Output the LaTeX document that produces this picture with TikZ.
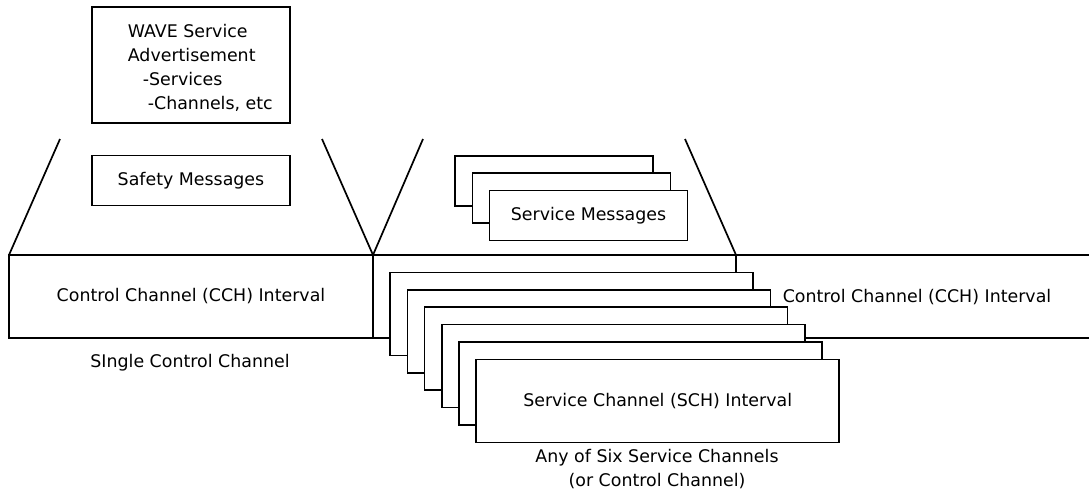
\documentclass[tikz,border=0pt]{standalone}
\usepackage{fontspec}
\setmainfont{DejaVu Sans}
\begin{document}
\begin{tikzpicture}[x=1pt,y=-1pt,
  line width=1.7pt,
  lbl/.style={font=\fontsize{17.4}{24}\selectfont, inner sep=0pt},
  msgbox/.style={draw, fill=white, minimum width=198pt, minimum height=50pt, inner sep=0pt, outer sep=0pt, font=\fontsize{17.4}{24}\selectfont},
  chanbox/.style={draw, fill=white, minimum width=363pt, minimum height=83pt, inner sep=0pt, outer sep=0pt, font=\fontsize{17.4}{24}\selectfont}]
\useasboundingbox (0,0) rectangle (1089,490);

% upper messages
\node[msgbox, minimum height=116pt] (wave) at (191,65) {};
\node[lbl, anchor=north west, align=left] (wavetxt) at (127,23)
  {WAVE Service\\Advertisement\\\hspace*{15pt}-Services\\\hspace*{20pt}-Channels, etc};
\node[msgbox] (safety) at (191,180.5) {Safety Messages};

\node[msgbox] (sm1) at (554,181) {};
\node[msgbox] (sm2) at (571.5,198) {};
\node[msgbox] (sm3) at (588.5,215.5) {Service Messages};

% timeline: control channel, then stacked service channels
\node[chanbox, minimum width=364pt] (cchL) at (191,296.5) {Control Channel (CCH) Interval};
\coordinate (edgeT) at (1089,255);
\coordinate (edgeB) at (1089,338);
\foreach \i in {1,...,7}{
  \node[chanbox] (sch\i) at ({554.5+17.2*(\i-1)},{296.5+17.4*(\i-1)}) {};
}
\node[lbl] at (sch7) {Service Channel (SCH) Interval};
\node[lbl] (cchR) at (917,297) {Control Channel (CCH) Interval};
\draw (sch1.north east) -- (edgeT);
\draw (sch5.east |- edgeB) -- (edgeB);

% captions
\node[lbl] (single) at (190,363) {SIngle Control Channel};
\node[lbl, align=center] (anysix) at (657,469) {Any of Six Service Channels\\(or Control Channel)};

% zoom lines
\coordinate (v1a) at (60,139);
\coordinate (v1b) at (322,139);
\coordinate (v2a) at (423,139);
\coordinate (v2b) at (685,139);
\draw (v1a) -- (cchL.north west);
\draw (v1b) -- (cchL.north east);
\draw (v2a) -- (sch1.north west);
\draw (v2b) -- (sch1.north east);
\end{tikzpicture}
\end{document}
